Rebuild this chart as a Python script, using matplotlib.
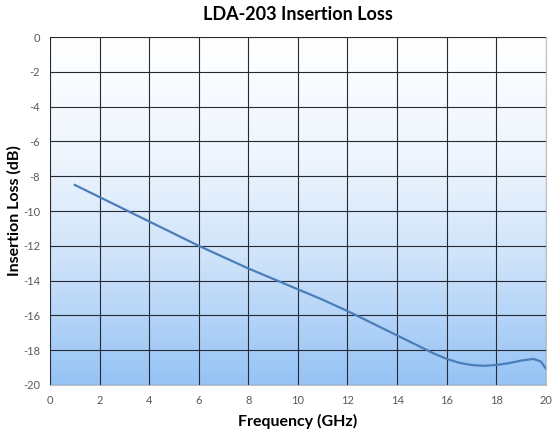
import numpy as np
import matplotlib.pyplot as plt
from matplotlib.colors import LinearSegmentedColormap

plt.rcParams['axes.unicode_minus'] = False
plt.rcParams['font.family'] = ['Lato', 'DejaVu Sans']

freq = [1, 2, 3, 4, 5, 6, 7, 8, 9, 10, 11, 12, 13, 14, 15, 15.5, 16, 16.5,
        17, 17.5, 18, 18.5, 19, 19.5, 19.8, 20]
loss = [-8.5, -9.2, -9.9, -10.6, -11.3, -12.0, -12.65, -13.3, -13.9, -14.5,
        -15.1, -15.75, -16.45, -17.15, -17.85, -18.2, -18.5, -18.72,
        -18.85, -18.9, -18.85, -18.75, -18.6, -18.5, -18.65, -19.05]

xticks = list(range(0, 21, 2))
yticks = list(range(-20, 1, 2))

fig = plt.figure(figsize=(5.53, 4.36), dpi=100)
ax = fig.add_axes([0.0904, 0.117, 0.8966, 0.798])

# background gradient: white at top, light blue at bottom
cmap = LinearSegmentedColormap.from_list(
    'bg', [(0, '#ffffff'), (0.35, '#eef5fd'), (0.65, '#cde2fa'), (1, '#95c3f5')])
grad = np.linspace(0, 1, 256).reshape(-1, 1)
ax.imshow(grad, extent=[0, 20, -20, 0], aspect='auto', cmap=cmap, zorder=0)

ax.plot(freq, loss, color='#4a7ebb', lw=1.6, zorder=3)

ax.set_xlim(0, 20)
ax.set_ylim(-20, 0)
ax.set_xticks(xticks)
ax.set_yticks(yticks)
ax.grid(True, color='#262a33', lw=0.8, zorder=2)
ax.set_axisbelow(False)
ax.tick_params(length=0, labelsize=8, colors='#595959', pad=7)
for s in ax.spines.values():
    s.set_color('#bfbfbf')

ax.set_title('LDA-203 Insertion Loss', fontsize=13, fontweight='bold', pad=12)
ax.set_xlabel('Frequency (GHz)', fontsize=11.5, fontweight='bold', labelpad=6)
ax.set_ylabel('Insertion Loss (dB)', fontsize=11.5, fontweight='bold', labelpad=1)

fig.savefig('out.png', dpi=100)
